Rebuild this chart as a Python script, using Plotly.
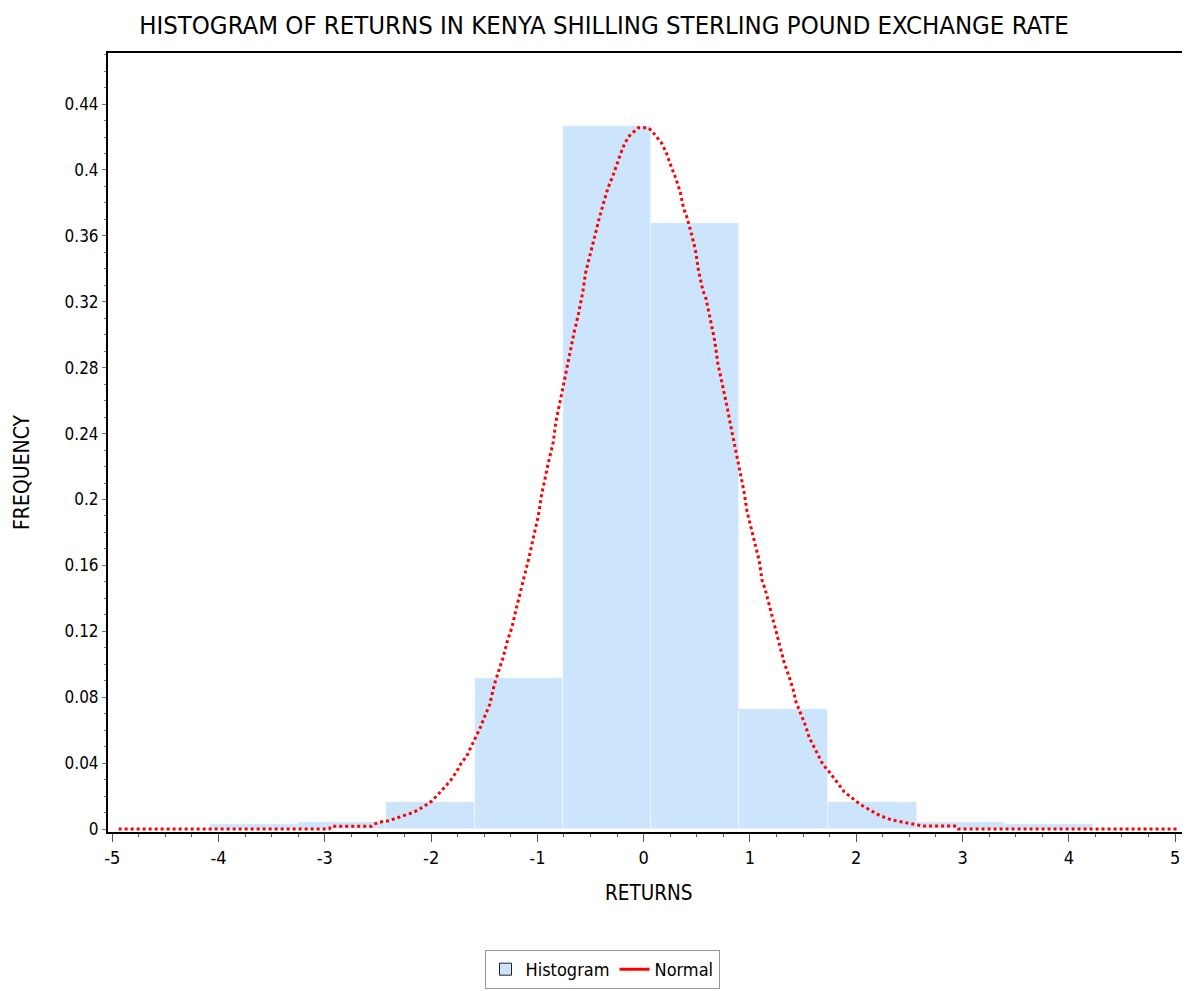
import plotly.graph_objects as go

# ---- data ----
bin_edges = [-4.08, -3.25, -2.42, -1.59, -0.76, 0.07, 0.90, 1.73, 2.57, 3.40, 4.23]
frequency = [0.0030, 0.0043, 0.0166, 0.0918, 0.4267, 0.3676, 0.0728, 0.0165, 0.0043, 0.0031]

normal_x = [-4.94, -2.96, -2.94, -2.56, -2.54, -2.464, -2.402, -2.308, -2.229, -2.166,
            -2.072, -1.993, -1.925, -1.868, -1.812, -1.755, -1.711, -1.671, -1.630, -1.577,
            -1.532, -1.492, -1.448, -1.405, -1.367, -1.323, -1.285, -1.238, -1.200, -1.156,
            -1.116, -1.075, -1.034, -0.991, -0.962, -0.921, -0.897, -0.852, -0.824, -0.780,
            -0.739, -0.699, -0.658, -0.614, -0.573, -0.545, -0.504, -0.464, -0.420, -0.379,
            -0.335, -0.285, -0.238, -0.197, -0.144, -0.050, 0.044, 0.076, 0.107, 0.139,
            0.170, 0.211, 0.239, 0.264, 0.305, 0.345, 0.374, 0.405, 0.446, 0.487,
            0.515, 0.556, 0.587, 0.625, 0.669, 0.697, 0.738, 0.782, 0.822, 0.863,
            0.904, 0.944, 0.973, 1.001, 1.045, 1.086, 1.114, 1.142, 1.183, 1.224,
            1.267, 1.321, 1.365, 1.405, 1.434, 1.478, 1.518, 1.559, 1.603, 1.644,
            1.685, 1.747, 1.817, 1.888, 1.958, 2.036, 2.130, 2.224, 2.334, 2.443,
            2.553, 2.631, 2.94, 2.96, 5.04]
normal_y = [0.0, 0.0, 0.0017, 0.0017, 0.0030, 0.0044, 0.0050, 0.0071, 0.0085, 0.0101,
            0.0135, 0.0170, 0.0217, 0.0257, 0.0299, 0.0354, 0.0407, 0.0435, 0.0490, 0.0569,
            0.0623, 0.0690, 0.0757, 0.0878, 0.0957, 0.1040, 0.1135, 0.1228, 0.1335, 0.1443,
            0.1549, 0.1659, 0.1780, 0.1901, 0.2023, 0.2158, 0.2223, 0.2345, 0.2480, 0.2614,
            0.2749, 0.2870, 0.3004, 0.3125, 0.3259, 0.3380, 0.3488, 0.3595, 0.3702, 0.3797,
            0.3892, 0.3973, 0.4066, 0.4135, 0.4202, 0.4256, 0.4256, 0.4238, 0.4212, 0.4188,
            0.4162, 0.4107, 0.4052, 0.4012, 0.3945, 0.3864, 0.3771, 0.3716, 0.3621, 0.3514,
            0.3393, 0.3271, 0.3217, 0.3097, 0.2962, 0.2828, 0.2707, 0.2571, 0.2438, 0.2304,
            0.2183, 0.2047, 0.1926, 0.1859, 0.1738, 0.1631, 0.1509, 0.1457, 0.1347, 0.1254,
            0.1147, 0.1012, 0.0930, 0.0850, 0.0769, 0.0702, 0.0635, 0.0554, 0.0499, 0.0447,
            0.0393, 0.0346, 0.0285, 0.0225, 0.0190, 0.0150, 0.0115, 0.0081, 0.0055, 0.0042,
            0.0030, 0.0018, 0.0018, 0.0, 0.0]

x_tick_vals = [-5, -4, -3, -2, -1, 0, 1, 2, 3, 4, 5]
x_tick_text = ["-5", "-4", "-3", "-2", "-1", "0", "1", "2", "3", "4", "5"]
y_tick_vals = [0, 0.04, 0.08, 0.12, 0.16, 0.2, 0.24, 0.28, 0.32, 0.36, 0.4, 0.44]
y_tick_text = ["0", "0.04", "0.08", "0.12", "0.16", "0.2", "0.24", "0.28", "0.32", "0.36", "0.4", "0.44"]

title_text = "HISTOGRAM OF RETURNS IN KENYA SHILLING STERLING POUND EXCHANGE RATE"
x_title = "RETURNS"
y_title = "FREQUENCY"

# ---- styling ----
FONT = "DejaVu Sans Condensed, Liberation Sans Narrow, Arial Narrow, sans-serif"
BAR_COLOR = "#CCE5FC"
RED = "#FF0000"
W, H = 1182, 983   # page body has an 8px margin

centers = [(a + b) / 2 for a, b in zip(bin_edges[:-1], bin_edges[1:])]
widths = [b - a for a, b in zip(bin_edges[:-1], bin_edges[1:])]

fig = go.Figure()
fig.add_trace(go.Bar(x=centers, y=frequency, width=widths, showlegend=False,
                     marker=dict(color=BAR_COLOR, line=dict(color="rgba(255,255,255,0.7)", width=0.6))))
fig.add_trace(go.Scatter(x=normal_x, y=normal_y, mode="lines", showlegend=False,
                         line=dict(color=RED, width=3, dash="3px,3px")))
# legend-only entries
fig.add_trace(go.Bar(x=[None], y=[None], name="Histogram",
                     marker=dict(color=BAR_COLOR, line=dict(color="#222222", width=1))))
fig.add_trace(go.Scatter(x=[None], y=[None], name="Normal", mode="lines",
                         line=dict(color=RED, width=3)))

fig.update_layout(
    width=W, height=H,
    margin=dict(l=100, r=0, t=45, b=159),
    paper_bgcolor="white", plot_bgcolor="white",
    barmode="overlay", bargap=0,
    font=dict(family=FONT, size=18, color="black"),
    title=dict(text=title_text, x=596 / W, xref="container", xanchor="center",
               y=1 - 17 / H, yref="container", yanchor="middle",
               font=dict(family=FONT, size=25.5, color="black")),
    legend=dict(orientation="h", xref="container", yref="container",
                x=594 / W, xanchor="center", y=1 - 942 / H, yanchor="top",
                bordercolor="#999999", borderwidth=1, bgcolor="white",
                font=dict(family=FONT, size=18, color="black"),
                itemwidth=30, tracegroupgap=0),
    xaxis=dict(range=[-5.04, 5.14], tickvals=x_tick_vals, ticktext=x_tick_text,
               ticks="outside", ticklen=8,
               tickwidth=1, tickcolor="#555555", showgrid=False, zeroline=False,
               showline=True, linecolor="black", linewidth=2, mirror=True,
               tickfont=dict(family=FONT, size=18, color="black"),
               minor=dict(dtick=0.25, ticks="outside", ticklen=3, tickcolor="#555555")),
    yaxis=dict(range=[-0.0018, 0.471], tickvals=y_tick_vals, ticktext=y_tick_text,
               ticks="outside", ticklen=4, tickwidth=1, tickcolor="#777777",
               showgrid=False, zeroline=False, showline=True, linecolor="black", linewidth=2,
               tickfont=dict(family=FONT, size=17, color="black"),
               minor=dict(dtick=0.01, ticks="outside", ticklen=2, tickcolor="#777777")),
    annotations=[
        dict(text=x_title, xref="paper", yref="paper", x=0.5, y=(832 - 893) / 779,
             xanchor="center", yanchor="middle", showarrow=False,
             font=dict(family=FONT, size=20.5, color="black")),
        dict(text=y_title, xref="paper", yref="paper", x=(22 - 108) / 1082, y=(832 - 472) / 779,
             xanchor="center", yanchor="middle", textangle=-90, showarrow=False,
             font=dict(family=FONT, size=21, color="black")),
    ],
)

fig.write_html("out.html")
